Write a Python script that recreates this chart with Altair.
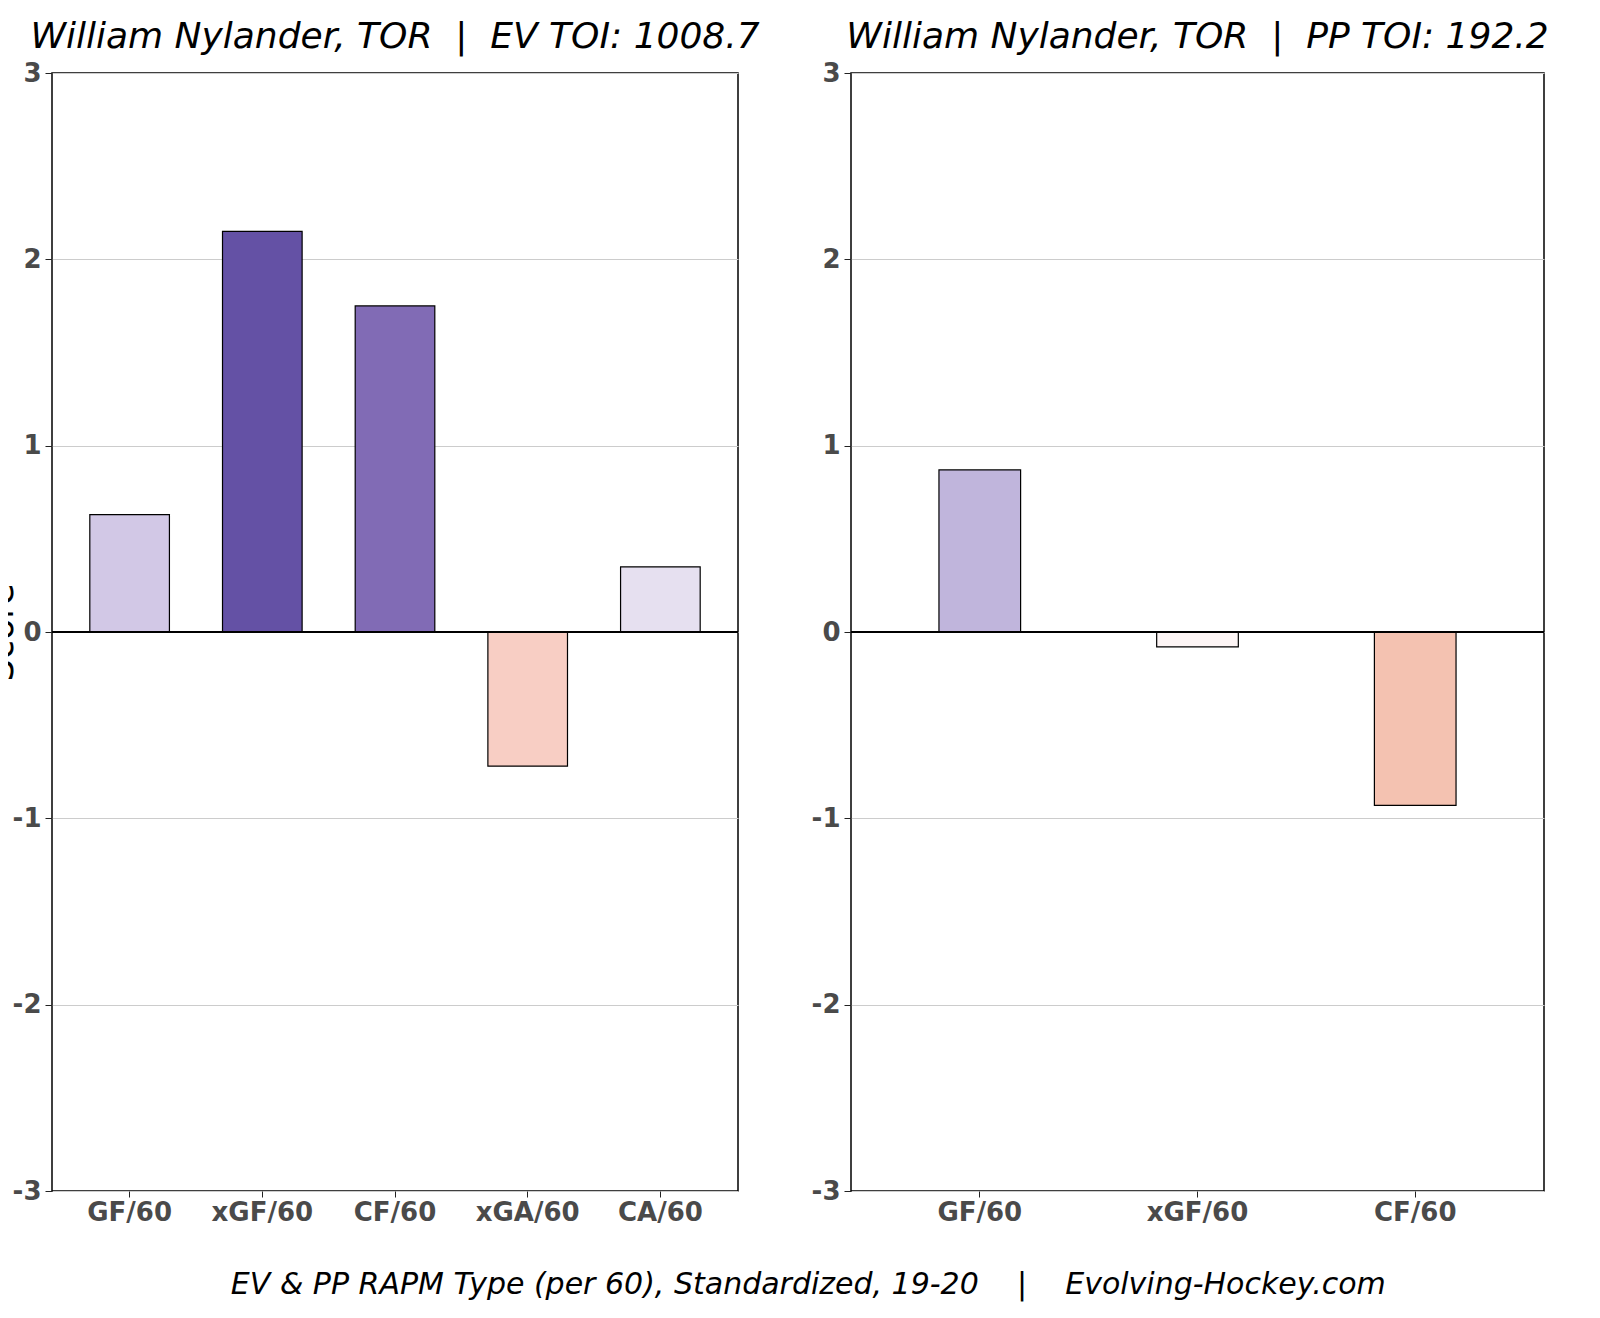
import altair as alt
import pandas as pd

ev_cats = ["GF/60", "xGF/60", "CF/60", "xGA/60", "CA/60"]
ev_vals = [0.63, 2.15, 1.75, -0.72, 0.35]
ev_colors = ["#d2c8e6", "#6451a5", "#816bb5", "#f8cec4", "#e6e0f0"]

pp_cats = ["GF/60", "xGF/60", "CF/60"]
pp_vals = [0.87, -0.08, -0.93]
pp_colors = ["#c0b5dc", "#fdf5f5", "#f4c2b1"]

y_ticks = [-3, -2, -1, 0, 1, 2, 3]

NB = "\u00a0"
ev_title = "William Nylander, TOR" + NB * 2 + "|" + NB * 2 + "EV TOI: 1008.7"
pp_title = "William Nylander, TOR" + NB * 2 + "|" + NB * 2 + "PP TOI: 192.2"
caption = ("EV & PP RAPM Type (per 60), Standardized, 19-20" + NB * 4 + "|"
           + NB * 4 + "Evolving-Hockey.com")

FONT = "DejaVu Sans"

ev_df = pd.DataFrame({"cat": ev_cats, "val": ev_vals, "col": ev_colors})
pp_df = pd.DataFrame({"cat": pp_cats, "val": pp_vals, "col": pp_colors})


def panel(df, cats, title, w, pin, pout, ytitle):
    x = alt.X("cat:N", sort=cats,
              scale=alt.Scale(paddingInner=pin, paddingOuter=pout),
              axis=alt.Axis(title=None, labelAngle=0, labelFont=FONT,
                            labelFontSize=26, labelFontWeight="bold",
                            labelColor="#4a4a4a", tickColor="#222",
                            tickSize=6, labelPadding=2, domain=False,
                            grid=False))
    common = dict(values=y_ticks, labelExpr="'' + datum.value",
                  labelFont=FONT, labelFontSize=26, labelFontWeight="bold",
                  labelColor="#4a4a4a", tickColor="#222", tickSize=7,
                  labelPadding=4, grid=True, gridColor="#cccccc",
                  gridWidth=1, domain=False)
    if ytitle:
        yaxis = alt.Axis(title=ytitle, titleFont=FONT, titleFontSize=35,
                         titleFontWeight="normal", titleColor="#000",
                         titleX=-33, **common)
    else:
        yaxis = alt.Axis(title=None, **common)
    y = alt.Y("val:Q", scale=alt.Scale(domain=[-3, 3], nice=False), axis=yaxis)
    bars = alt.Chart(df).mark_bar(stroke="black", strokeWidth=1.2).encode(
        x=x, y=y, y2=alt.datum(0), color=alt.Color("col:N", scale=None))
    zero = alt.Chart(pd.DataFrame({"z": [0]})).mark_rule(
        color="black", strokeWidth=2).encode(y="z:Q")
    return alt.layer(bars, zero).properties(
        width=w, height=1118,
        title=alt.TitleParams(title, font=FONT, fontSize=36,
                              fontStyle="italic", fontWeight="normal",
                              color="#000", anchor="middle", offset=4))


left = panel(ev_df, ev_cats, ev_title, 686, 0.4, 0.285, "Score")
right = panel(pp_df, pp_cats, pp_title, 693, 0.625, 0.404, None)

chart = alt.hconcat(left, right, spacing=113, bounds="flush").properties(
    title=alt.TitleParams(
        caption, orient="bottom", anchor="middle", font=FONT, fontSize=30,
        fontStyle="italic", fontWeight="normal", color="#000", offset=44,
        dx=42),
    padding={"left": -25, "top": 10, "right": 5, "bottom": 5},
    background="white",
).configure_view(stroke="black", strokeWidth=1.5)

chart.save("out.html", embed_options={"renderer": "svg", "actions": False})
